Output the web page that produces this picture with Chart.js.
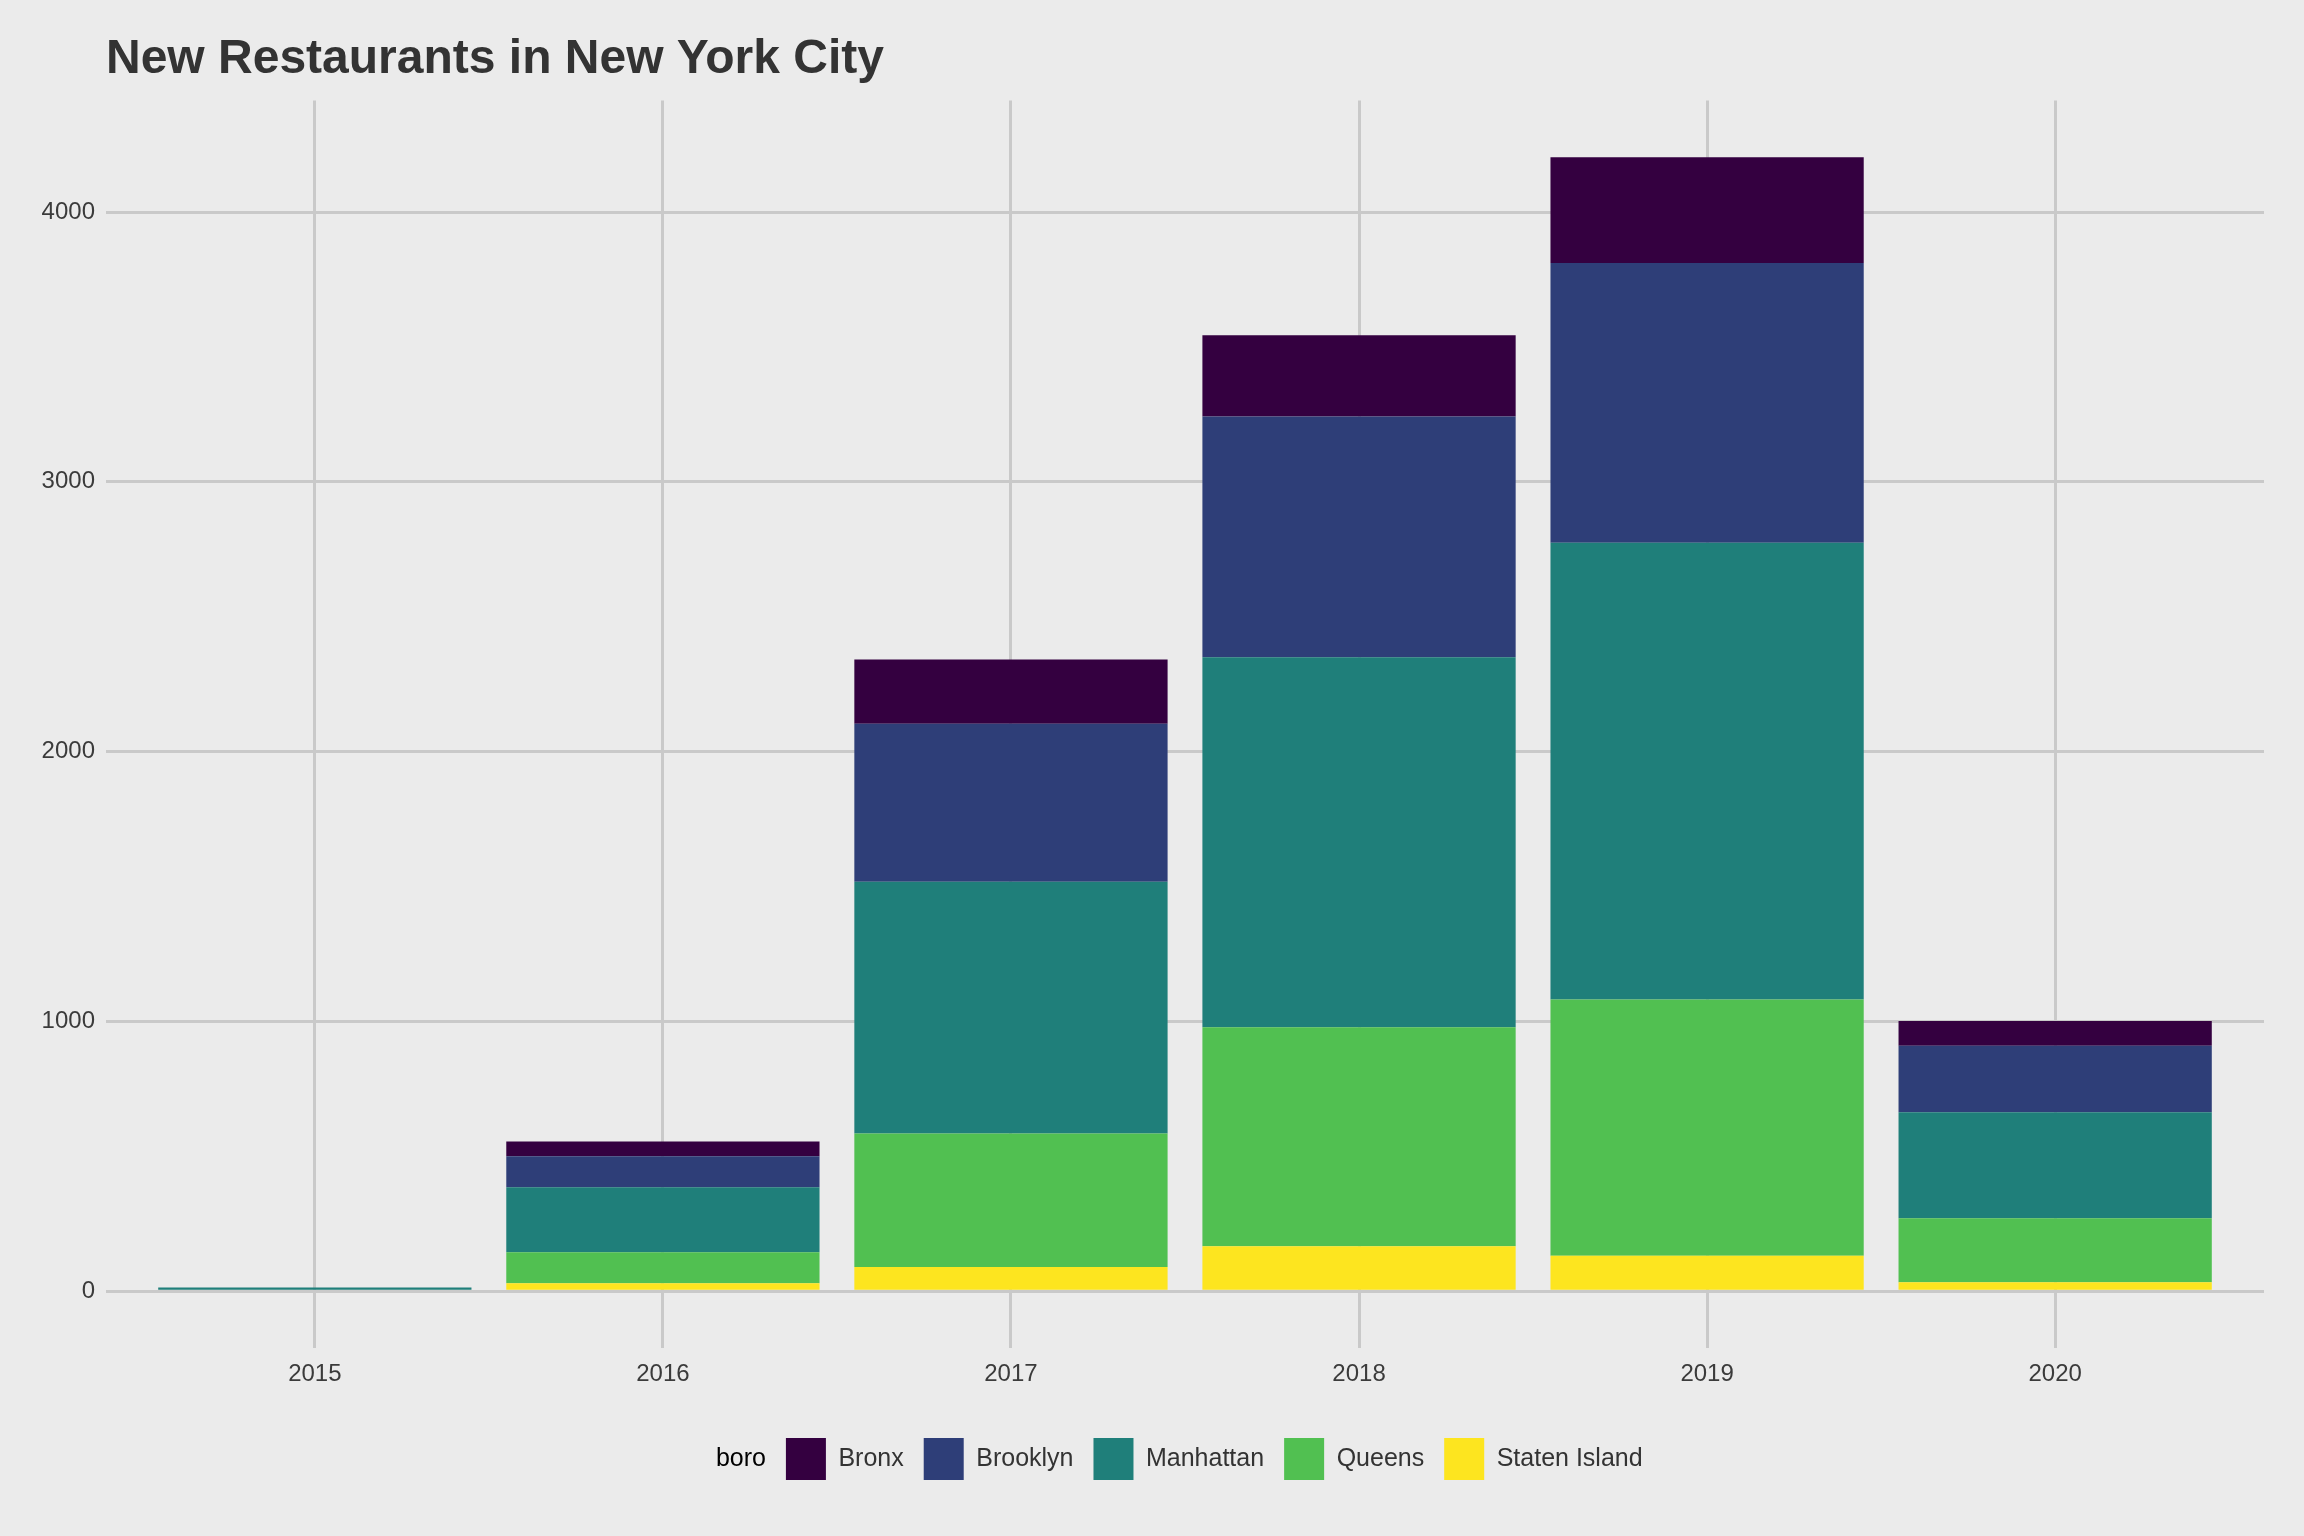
<!DOCTYPE html>
<html>
<head>
<meta charset="utf-8">
<title>New Restaurants in New York City</title>
<script src="https://cdn.jsdelivr.net/npm/chart.js@4.4.1/dist/chart.umd.min.js"></script>
<style>
  html, body { margin: 0; padding: 0; background: #ebebeb; }
  canvas { display: block; }
</style>
</head>
<body>
<canvas id="chart" width="2304" height="1536"></canvas>
<script>
// data (stacked counts per borough)
const years = [2015, 2016, 2017, 2018, 2019, 2020];
const yearLabels = ['2015', '2016', '2017', '2018', '2019', '2020'];
const yTicks = [0, 1000, 2000, 3000, 4000];

const bronx        = [0,  54,  238,  301,  392,  92];
const brooklyn     = [0, 115,  586,  892, 1037, 246];
const manhattan    = [14, 241, 933, 1371, 1692, 393];
const queens       = [0, 115,  495,  812,  950, 237];
const statenIsland = [0,  30,   90,  167,  132,  34];

// bottom of the stack first
const series = [
  { label: 'Staten Island', values: statenIsland, color: '#fde51f' },
  { label: 'Queens',        values: queens,       color: '#51c051' },
  { label: 'Manhattan',     values: manhattan,    color: '#1f7f7a' },
  { label: 'Brooklyn',      values: brooklyn,     color: '#2e3e78' },
  { label: 'Bronx',         values: bronx,        color: '#340040' },
];

Chart.defaults.font.family = "'Liberation Sans', Arial, sans-serif";
Chart.defaults.color = '#333333';

const gridColor = '#c9c9c9';

new Chart(document.getElementById('chart'), {
  type: 'bar',
  data: {
    datasets: series.map(s => ({
      label: s.label,
      data: s.values.map((v, i) => ({ x: years[i], y: v })),
      backgroundColor: s.color,
      borderWidth: 0,
      barPercentage: 0.9,
      categoryPercentage: 1,
    })),
  },
  options: {
    responsive: false,
    animation: false,
    layout: { padding: { top: 31, left: 42, right: 40, bottom: 46 } },
    scales: {
      x: {
        type: 'linear',
        stacked: true,
        offset: false,
        min: 2014.4,
        max: 2020.6,
        afterBuildTicks: s => { s.ticks = years.map(v => ({ value: v })); },
        afterFit: s => { s.height = 70; },
        grid: { color: gridColor, lineWidth: 3, drawTicks: false, offset: false },
        border: { display: false },
        ticks: {
          padding: 12,
          font: { size: 24 },
          color: '#3b3b3b',
          callback: v => yearLabels[years.indexOf(v)],
        },
      },
      y: {
        stacked: true,
        min: -210,
        max: 4413,
        afterBuildTicks: s => { s.ticks = yTicks.map(v => ({ value: v })); },
        afterFit: s => { s.width = 64; },
        grid: { color: gridColor, lineWidth: 3, drawTicks: false },
        border: { display: false },
        ticks: {
          padding: 11,
          font: { size: 24 },
          color: '#3b3b3b',
          callback: v => String(v),
        },
      },
    },
    plugins: {
      title: {
        display: true,
        text: 'New Restaurants in New York City',
        align: 'start',
        fullSize: false,
        color: '#333333',
        font: { size: 48, weight: 'bold', lineHeight: 1.2 },
        padding: { top: 0, bottom: 12 },
      },
      legend: {
        position: 'bottom',
        align: 'center',
        onClick: null,
        labels: {
          boxWidth: 40,
          boxHeight: 42,
          padding: 20,
          color: '#333333',
          font: { size: 25 },
          // "boro" acts as the legend title, placed inline before the keys
          generateLabels: chart => {
            const items = Chart.defaults.plugins.legend.labels.generateLabels(chart).reverse();
            return [{ text: 'boro', fillStyle: 'rgba(0,0,0,0)', strokeStyle: 'rgba(0,0,0,0)', lineWidth: 0, hidden: false }, ...items];
          },
        },
      },
      tooltip: { enabled: false },
    },
  },
});
</script>
</body>
</html>
